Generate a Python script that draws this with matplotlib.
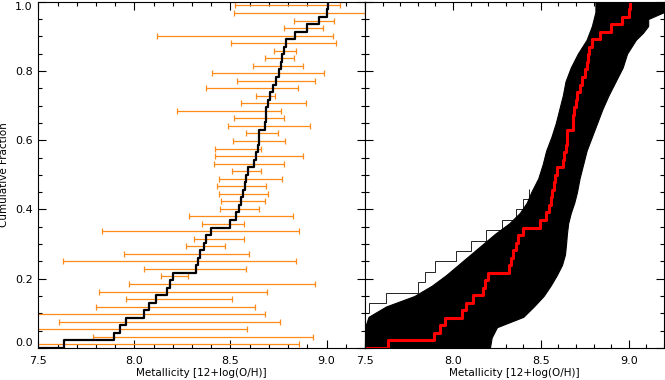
import numpy as np
import matplotlib.pyplot as plt
from matplotlib.ticker import MultipleLocator

# sorted metallicities (cumulative step, left black / right red)
metal = [7.633, 7.893, 7.925, 7.956, 8.049, 8.077, 8.112, 8.172, 8.185, 8.202,
         8.320, 8.331, 8.340, 8.360, 8.372, 8.399, 8.497, 8.531, 8.545, 8.557,
         8.566, 8.575, 8.583, 8.592, 8.623, 8.632, 8.642, 8.646, 8.649, 8.681,
         8.684, 8.686, 8.697, 8.706, 8.721, 8.735, 8.752, 8.764, 8.770, 8.776,
         8.791, 8.837, 8.898, 8.960, 9.000, 9.005]

# error bar ends (orange), one per point
bar_lo = [7.30, 7.784, 7.30, 7.607, 7.30, 7.800, 7.958, 7.817, 7.970, 8.141,
          8.051, 7.630, 7.947, 8.271, 8.311, 7.834, 8.354, 8.285, 8.445, 8.453,
          8.441, 8.431, 8.439, 8.510, 8.412, 8.419, 8.420, 8.514, 8.580, 8.486,
          8.517, 8.221, 8.554, 8.632, 8.372, 8.535, 8.405, 8.618, 8.678, 8.725,
          8.505, 8.119, 8.781, 8.831, 8.519, 8.526]
bar_hi = [8.857, 8.930, 8.587, 8.758, 8.677, 8.628, 8.510, 8.691, 8.940, 8.280,
          8.583, 8.843, 8.595, 8.474, 8.571, 8.857, 8.568, 8.826, 8.649, 8.679,
          8.696, 8.687, 8.769, 8.661, 8.779, 8.878, 8.659, 8.782, 8.748, 8.912,
          8.779, 8.762, 8.893, 8.734, 8.852, 8.938, 8.987, 8.878, 8.831, 8.840,
          9.051, 9.034, 8.982, 9.039, 9.300, 9.068]

# envelope of the Monte Carlo realisations (right panel)
band_y = [0.00, 0.03, 0.06, 0.09, 0.12, 0.15, 0.18, 0.21, 0.24, 0.27, 0.30,
          0.33, 0.36, 0.39, 0.42, 0.45, 0.49, 0.53, 0.57, 0.61, 0.65, 0.69,
          0.73, 0.77, 0.81, 0.85, 0.87, 0.89, 0.91, 0.93, 0.95, 0.97, 1.00]
band_left = [7.50, 7.50, 7.50, 7.52, 7.62, 7.78, 7.88, 7.96, 8.03, 8.10, 8.17,
             8.24, 8.32, 8.38, 8.42, 8.445, 8.485, 8.51, 8.53, 8.56, 8.585, 8.605,
             8.625, 8.64, 8.67, 8.71, 8.735, 8.76, 8.775, 8.79, 8.80, 8.81, 8.81]
band_right = [8.21, 8.22, 8.25, 8.40, 8.46, 8.515, 8.555, 8.59, 8.62, 8.637, 8.643,
              8.648, 8.655, 8.67, 8.69, 8.705, 8.72, 8.74, 8.76, 8.79, 8.82, 8.85,
              8.885, 8.925, 8.965, 8.99, 9.015, 9.04, 9.08, 9.11, 9.11, 9.20, 9.20]
# outermost single realisations on the low side
outer_edges = [0.10, 0.13, 0.16, 0.19, 0.22, 0.25, 0.28, 0.31, 0.34, 0.37, 0.40, 0.43, 0.46]
outer_left = [7.52, 7.62, 7.80, 7.84, 7.90, 8.02, 8.10, 8.19, 8.28, 8.36, 8.40, 8.43]

orange = '#ff8c1a'
n = len(metal)
edges = np.arange(n + 1) / n
bar_y = (np.arange(n) + 0.5) / n
lo = np.array(bar_lo)
hi = np.array(bar_hi)

fig = plt.figure(figsize=(6.65, 3.80), dpi=100)
ax1 = fig.add_axes([0.0576, 0.0842, 0.4913, 0.9113])
ax2 = fig.add_axes([0.5489, 0.0842, 0.4496, 0.9113])

# left panel: data with errors
ax1.errorbar((lo + hi) / 2, bar_y, xerr=(hi - lo) / 2, fmt='none', ecolor=orange,
             elinewidth=0.9, capsize=2.2, capthick=0.9)
ax1.step(np.r_[7.5, metal], edges, where='post', color='k', lw=1.6)

# right panel: Monte Carlo band + observed
ax2.fill_betweenx(band_y, band_left, band_right, color='k', lw=0.8)
ax2.stairs(outer_left, outer_edges, orientation='horizontal', baseline=None,
           color='k', lw=0.6)
ax2.step(np.r_[7.5, metal], edges, where='post', color='red', lw=2.2)

for ax in (ax1, ax2):
    ax.set_xlim(7.5, 9.2)
    ax.set_ylim(0, 1)
    ax.xaxis.set_major_locator(MultipleLocator(0.5))
    ax.xaxis.set_minor_locator(MultipleLocator(0.1))
    ax.yaxis.set_major_locator(MultipleLocator(0.2))
    ax.yaxis.set_minor_locator(MultipleLocator(0.05))
    ax.tick_params(which='both', direction='in', top=True, right=True,
                   width=0.8, labelsize=8)
    ax.tick_params(which='major', length=6)
    ax.tick_params(which='minor', length=3)
    ax.tick_params(axis='x', pad=5.5)
    ax.tick_params(axis='y', pad=4)
    for s in ax.spines.values():
        s.set_linewidth(0.8)
    ax.set_xlabel('Metallicity [12+log(O/H)]', fontsize=7.5)
    ax.xaxis.set_label_coords(0.5, -0.058)

ax2.tick_params(labelleft=False)
ax1.set_ylabel('Cumulative Fraction', fontsize=7.5)
ax1.yaxis.set_label_coords(-0.09, 0.5)

# keep the end labels inside the figure, like the original
fig.canvas.draw()
for t in ax1.get_yticklabels():
    if t.get_text() == '1.0':
        t.set_verticalalignment('top')
    elif t.get_text() == '0.0':
        t.set_verticalalignment('bottom')

fig.savefig('out.png', dpi=100)
